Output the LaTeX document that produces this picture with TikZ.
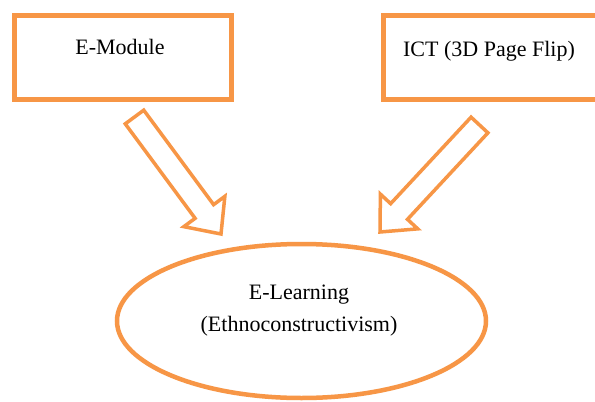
\documentclass[tikz,border=0pt]{standalone}
\usepackage{fontspec}
\setmainfont{Liberation Serif}
\usetikzlibrary{calc,shapes.geometric}
\definecolor{accent}{HTML}{F79646}
\tikzset{
  box/.style={draw=accent, line width=5pt, minimum width=217pt, minimum height=84pt, inner sep=0pt},
  lbl/.style={font=\fontsize{22}{32}\selectfont, text=black, align=center, inner sep=0pt},
  blockarrow/.style={draw=accent, line width=3.5pt, line join=miter},
  oval/.style={ellipse, draw=accent, line width=4.5pt, minimum width=369pt, minimum height=154pt, inner sep=0pt},
}
\newcommand\blockarr[2]{%
  \coordinate (ba-n) at ($(#2)!28pt!(#1)$);
  \draw[blockarrow] ($(#1)!11.5pt!90:(#2)$) -- ($(ba-n)!11.5pt!90:(#2)$) -- ($(ba-n)!25.5pt!90:(#2)$) -- (#2) -- ($(ba-n)!25.5pt!-90:(#2)$) -- ($(ba-n)!11.5pt!-90:(#2)$) -- ($(#1)!11.5pt!-90:(#2)$) -- cycle;
}
\begin{document}
\begin{tikzpicture}[x=1pt,y=-1pt]
\clip (0,0) rectangle (595,402);
\fill[white] (0,0) rectangle (595,402);
% boxes
\node[box] (emod) at (122.5,57) {};
\node[lbl] (emodtext) at (120,47) {E-Module};
\node[box] (ict) at (491.5,57) {};
\node[lbl] (icttext) at (489,51) {ICT (3D Page Flip)};
% ellipse
\node[oval] (elearn) at (301.5,321) {};
\node[lbl] (elearntext) at (299,311) {E-Learning\\(Ethnoconstructivism)};
% arrows
\coordinate (a1s) at (134.5,117);
\coordinate (a1e) at (221,234);
\coordinate (a2s) at (479.5,125);
\coordinate (a2e) at (380,232);
\blockarr{a1s}{a1e}
\blockarr{a2s}{a2e}
\end{tikzpicture}
\end{document}
